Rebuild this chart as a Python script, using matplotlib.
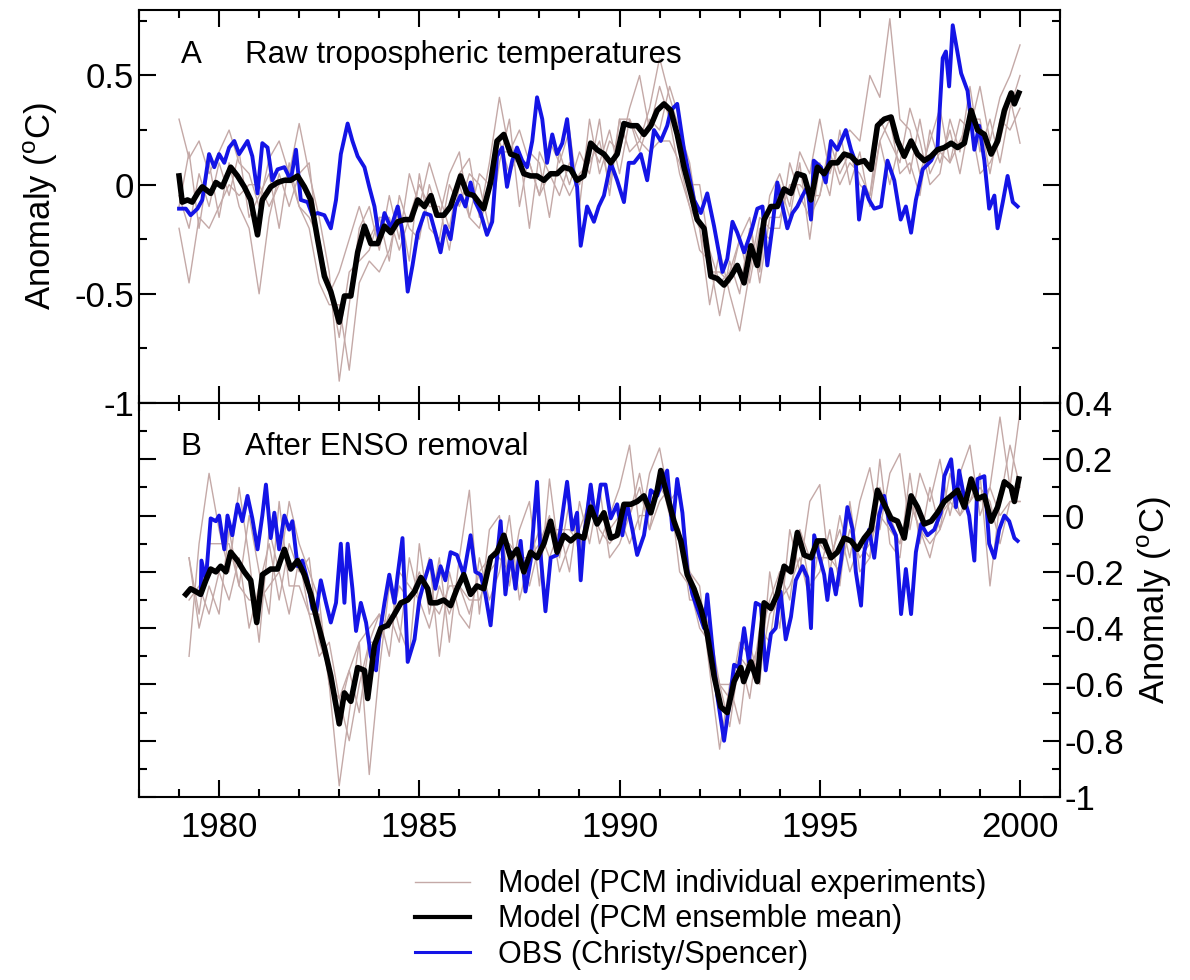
import numpy as np
import matplotlib
matplotlib.use("Agg")
import matplotlib.pyplot as plt
from matplotlib.lines import Line2D
from matplotlib.ticker import MultipleLocator

plt.rcParams['font.family'] = ['Liberation Sans', 'DejaVu Sans']
plt.rcParams['mathtext.fontset'] = 'custom'
plt.rcParams['mathtext.rm'] = 'Liberation Sans'

# ---- panel A: raw tropospheric temperatures (year, anomaly) ----
obs_a = [(1979.00,-0.11),(1979.17,-0.11),(1979.29,-0.14),(1979.46,-0.11),(1979.58,-0.07),(1979.75,0.14),
         (1979.88,0.08),(1980.00,0.14),(1980.13,0.10),(1980.25,0.17),(1980.38,0.20),(1980.50,0.14),
         (1980.71,0.20),(1980.83,0.13),(1980.96,-0.04),(1981.08,0.19),(1981.21,0.17),(1981.33,0.02),
         (1981.46,0.07),(1981.63,0.08),(1981.79,0.02),(1981.92,0.16),(1982.04,-0.07),(1982.21,-0.08),
         (1982.33,-0.14),(1982.46,-0.13),(1982.63,-0.14),(1982.79,-0.20),(1982.92,-0.07),(1983.04,0.14),
         (1983.21,0.28),(1983.33,0.20),(1983.46,0.13),(1983.63,0.08),(1983.75,-0.01),(1983.88,-0.10),
         (1984.00,-0.25),(1984.13,-0.13),(1984.29,-0.20),(1984.46,-0.10),(1984.58,-0.22),(1984.71,-0.49),
         (1984.83,-0.37),(1984.96,-0.22),(1985.13,-0.13),(1985.28,-0.14),(1985.40,-0.22),(1985.53,-0.31),
         (1985.65,-0.19),(1985.78,-0.25),(1985.90,-0.10),(1986.03,-0.05),(1986.15,-0.10),(1986.28,0.01),
         (1986.40,-0.08),(1986.53,-0.13),(1986.69,-0.23),(1986.82,-0.17),(1986.94,0.13),(1987.07,0.17),
         (1987.19,-0.01),(1987.32,0.11),(1987.44,0.17),(1987.57,0.11),(1987.69,0.08),(1987.82,0.20),
         (1987.94,0.40),(1988.07,0.30),(1988.19,0.10),(1988.32,0.23),(1988.44,0.14),(1988.57,0.19),
         (1988.69,0.30),(1988.82,0.08),(1988.94,-0.01),(1989.03,-0.28),(1989.19,-0.10),(1989.36,-0.17),
         (1989.48,-0.10),(1989.61,-0.05),(1989.78,0.10),(1989.94,0.02),(1990.11,-0.08),(1990.23,0.10),
         (1990.36,0.10),(1990.53,0.14),(1990.69,0.02),(1990.86,0.25),(1991.03,0.20),(1991.19,0.27),
         (1991.28,0.34),(1991.44,0.37),(1991.61,0.16),(1991.86,-0.07),(1992.03,-0.13),(1992.19,-0.04),
         (1992.36,-0.19),(1992.57,-0.40),(1992.69,-0.34),(1992.82,-0.17),(1992.94,-0.22),(1993.11,-0.31),
         (1993.28,-0.22),(1993.44,-0.11),(1993.57,-0.10),(1993.69,-0.37),(1993.82,-0.19),(1993.94,0.01),
         (1994.07,-0.10),(1994.19,-0.20),(1994.32,-0.13),(1994.44,-0.10),(1994.57,-0.05),(1994.69,-0.01),
         (1994.78,-0.16),(1994.85,0.11),(1995.03,0.08),(1995.15,0.01),(1995.28,0.20),(1995.44,0.16),
         (1995.65,0.25),(1995.78,0.16),(1995.90,0.10),(1995.98,-0.16),(1996.11,-0.01),(1996.23,-0.07),
         (1996.36,-0.11),(1996.53,-0.10),(1996.69,0.11),(1996.86,0.02),(1997.02,-0.16),(1997.15,-0.10),
         (1997.28,-0.22),(1997.40,-0.07),(1997.57,0.07),(1997.78,0.11),(1997.94,0.17),(1998.07,0.58),
         (1998.15,0.61),(1998.23,0.45),(1998.32,0.73),(1998.53,0.51),(1998.69,0.43),(1998.86,0.16),
         (1998.98,0.27),(1999.11,0.11),(1999.23,-0.11),(1999.36,-0.05),(1999.44,-0.20),(1999.57,-0.08),
         (1999.69,0.04),(1999.82,-0.08),(1999.94,-0.10)]

mean_a = [(1979.00,0.04),(1979.08,-0.08),(1979.21,-0.07),(1979.33,-0.08),(1979.46,-0.04),(1979.58,-0.01),
          (1979.79,-0.04),(1979.92,0.01),(1980.08,-0.01),(1980.29,0.08),(1980.46,0.04),(1980.63,-0.01),
          (1980.79,-0.07),(1980.96,-0.23),(1981.08,-0.07),(1981.29,-0.01),(1981.46,0.01),(1981.63,0.02),
          (1981.79,0.02),(1981.96,0.04),(1982.13,-0.01),(1982.29,-0.07),(1982.46,-0.25),(1982.63,-0.42),
          (1982.79,-0.49),(1983.00,-0.63),(1983.13,-0.51),(1983.29,-0.51),(1983.46,-0.31),(1983.63,-0.19),
          (1983.79,-0.27),(1983.96,-0.27),(1984.13,-0.19),(1984.29,-0.22),(1984.46,-0.17),(1984.63,-0.16),
          (1984.79,-0.16),(1984.96,-0.07),(1985.13,-0.10),(1985.29,-0.05),(1985.44,-0.14),(1985.61,-0.14),
          (1985.78,-0.10),(1986.03,0.04),(1986.19,-0.04),(1986.36,-0.05),(1986.61,-0.11),(1986.78,0.01),
          (1986.94,0.20),(1987.11,0.23),(1987.28,0.14),(1987.44,0.13),(1987.61,0.05),(1987.78,0.04),
          (1987.94,0.04),(1988.11,0.02),(1988.28,0.05),(1988.44,0.05),(1988.61,0.08),(1988.78,0.07),
          (1988.94,0.02),(1989.11,0.04),(1989.28,0.19),(1989.44,0.16),(1989.61,0.14),(1989.78,0.10),
          (1989.94,0.14),(1990.11,0.28),(1990.28,0.27),(1990.44,0.27),(1990.61,0.23),(1990.78,0.27),
          (1990.94,0.34),(1991.11,0.37),(1991.28,0.34),(1991.44,0.23),(1991.61,0.08),(1991.78,-0.04),
          (1991.94,-0.16),(1992.11,-0.20),(1992.28,-0.42),(1992.44,-0.43),(1992.61,-0.46),(1992.78,-0.42),
          (1992.94,-0.37),(1993.11,-0.45),(1993.28,-0.28),(1993.44,-0.37),(1993.61,-0.16),(1993.78,-0.10),
          (1993.94,-0.10),(1994.11,-0.02),(1994.28,-0.04),(1994.44,0.05),(1994.61,0.04),(1994.78,-0.07),
          (1994.94,0.08),(1995.11,0.05),(1995.28,0.10),(1995.44,0.10),(1995.61,0.14),(1995.78,0.13),
          (1995.94,0.10),(1996.11,0.11),(1996.28,0.07),(1996.44,0.27),(1996.61,0.30),(1996.78,0.31),
          (1996.94,0.20),(1997.11,0.13),(1997.28,0.20),(1997.44,0.14),(1997.61,0.11),(1997.78,0.13),
          (1997.94,0.16),(1998.11,0.17),(1998.28,0.19),(1998.44,0.17),(1998.61,0.19),(1998.78,0.34),
          (1998.94,0.25),(1999.11,0.23),(1999.28,0.14),(1999.44,0.20),(1999.61,0.34),(1999.78,0.42),
          (1999.86,0.37),(1999.97,0.42)]

# individual PCM runs, quarterly from 1979.0 to 2000.0
runs_a = [
    [0.30,0.12,0.20,0.05, 0.15,0.25,0.10,0.05, -0.10,0.12,0.20,0.05, 0.28,0.05,-0.15,-0.40,
     -0.90,-0.55,-0.20,-0.10, -0.30,-0.05,-0.25,0.05, -0.10,0.10,-0.05,-0.20, 0.05,0.12,-0.15,0.10,
     0.40,0.15,0.25,0.10, -0.05,0.20,0.10,0.25, -0.10,0.30,0.05,0.20, 0.15,0.35,0.50,0.25,
     0.45,0.30,0.05,-0.10, -0.30,-0.35,-0.60,-0.35, -0.50,-0.20,-0.40,-0.05, 0.05,-0.10,0.15,0.05,
     0.30,0.05,0.20,0.25, 0.20,0.50,0.40,0.76, 0.30,0.25,0.05,0.20, 0.35,0.10,0.30,0.25,
     0.45,0.20,0.40,0.50, 0.64],
    [-0.05,-0.20,0.05,-0.10, 0.10,-0.05,0.15,-0.15, -0.05,0.05,-0.20,0.10, -0.10,-0.20,-0.45,-0.55,
     -0.55,-0.85,-0.45,-0.35, -0.40,-0.30,-0.10,-0.35, 0.05,-0.20,-0.25,0.00, -0.10,0.05,0.00,-0.20,
     0.10,0.30,-0.10,0.15, 0.10,-0.15,0.15,0.00, 0.15,0.05,0.30,-0.05, 0.30,0.15,0.20,0.35,
     0.58,0.40,0.25,0.10, -0.20,-0.55,-0.30,-0.50, -0.67,-0.40,-0.15,-0.20, -0.20,0.10,-0.05,-0.15,
     -0.05,0.20,0.05,0.15, 0.00,-0.05,0.30,0.20, 0.10,0.35,0.20,0.00, 0.05,0.30,0.15,0.45,
     0.15,0.30,0.10,0.35, 0.50],
    [-0.10,0.15,-0.20,0.10, -0.15,0.10,-0.10,-0.20, -0.50,-0.15,0.05,-0.10, 0.05,0.10,-0.30,-0.45,
     -0.70,-0.40,-0.35,-0.30, -0.15,-0.35,-0.05,-0.20, -0.25,0.00,-0.15,0.05, 0.15,-0.15,0.05,0.00,
     0.20,0.05,0.15,-0.20, 0.15,0.05,-0.05,0.10, 0.00,0.20,0.10,0.25, 0.05,0.30,0.15,0.30,
     0.25,0.45,0.30,0.00, 0.00,-0.30,-0.45,-0.40, -0.25,-0.45,-0.20,-0.25, 0.00,-0.15,0.10,-0.25,
     0.10,-0.05,0.25,0.00, 0.15,-0.10,0.20,0.30, 0.05,0.10,-0.05,0.25, 0.10,0.25,0.05,0.30,
     0.30,0.05,0.30,0.25, 0.35],
    [-0.20,-0.45,-0.15,-0.20, -0.10,0.00,-0.05,0.00, 0.00,-0.10,0.00,0.05, -0.10,-0.15,-0.25,-0.50,
     -0.40,-0.25,-0.10,-0.25, -0.15,-0.15,-0.30,-0.15, 0.00,-0.10,-0.10,-0.30, 0.00,-0.15,-0.20,0.00,
     0.15,0.15,0.10,0.10, -0.05,0.05,0.05,-0.05, 0.05,0.10,0.20,0.00, 0.30,0.30,0.20,0.15,
     0.20,0.20,0.10,-0.10, -0.20,-0.40,-0.40,-0.45, -0.25,-0.15,-0.45,-0.15, -0.15,0.00,0.00,-0.05,
     -0.05,0.15,0.00,0.10, 0.05,-0.05,0.20,0.00, 0.20,0.05,0.30,0.05, 0.15,0.10,0.20,0.30,
     0.05,0.10,0.20,0.40, 0.19],
]

# ---- panel B: after ENSO removal ----
obs_b = [(1979.54,-0.28),(1979.56,-0.16),(1979.67,-0.23),(1979.79,-0.01),(1979.92,-0.02),(1980.00,0.00),
         (1980.13,-0.12),(1980.21,0.00),(1980.33,-0.07),(1980.46,0.04),(1980.58,-0.02),(1980.71,0.07),
         (1980.83,-0.01),(1980.96,-0.12),(1981.08,0.00),(1981.17,0.11),(1981.29,-0.08),(1981.38,0.01),
         (1981.50,-0.12),(1981.63,0.00),(1981.75,-0.05),(1981.83,-0.02),(1981.96,-0.18),(1982.08,-0.16),
         (1982.21,-0.23),(1982.33,-0.33),(1982.42,-0.35),(1982.54,-0.23),(1982.67,-0.31),(1982.79,-0.38),
         (1982.92,-0.31),(1983.04,-0.10),(1983.13,-0.31),(1983.21,-0.10),(1983.33,-0.26),(1983.42,-0.41),
         (1983.54,-0.31),(1983.67,-0.38),(1983.79,-0.50),(1983.92,-0.55),(1984.00,-0.43),(1984.13,-0.31),
         (1984.25,-0.21),(1984.38,-0.31),(1984.46,-0.21),(1984.58,-0.08),(1984.71,-0.52),(1984.88,-0.44),
         (1985.00,-0.30),(1985.13,-0.23),(1985.28,-0.16),(1985.40,-0.26),(1985.53,-0.18),(1985.65,-0.23),
         (1985.78,-0.13),(1985.94,-0.14),(1986.11,-0.21),(1986.28,-0.07),(1986.40,-0.20),(1986.53,-0.21),
         (1986.65,-0.28),(1986.78,-0.39),(1986.90,-0.21),(1987.03,-0.02),(1987.15,-0.28),(1987.28,-0.13),
         (1987.40,-0.26),(1987.53,-0.09),(1987.65,-0.27),(1987.78,-0.16),(1987.94,0.12),(1988.03,-0.14),
         (1988.15,-0.34),(1988.28,-0.15),(1988.44,-0.14),(1988.61,0.04),(1988.69,0.12),(1988.82,-0.05),
         (1988.94,0.01),(1989.03,-0.23),(1989.11,-0.08),(1989.28,0.11),(1989.40,-0.02),(1989.53,0.11),
         (1989.65,0.11),(1989.78,-0.01),(1989.94,0.04),(1990.07,-0.07),(1990.19,0.04),(1990.32,-0.05),
         (1990.44,-0.14),(1990.61,-0.07),(1990.78,0.09),(1990.94,0.07),(1991.07,0.12),(1991.19,0.16),
         (1991.32,-0.05),(1991.44,0.13),(1991.57,0.01),(1991.69,-0.19),(1991.82,-0.28),(1991.94,-0.33),
         (1992.11,-0.40),(1992.19,-0.28),(1992.32,-0.47),(1992.44,-0.64),(1992.61,-0.80),(1992.73,-0.68),
         (1992.86,-0.53),(1992.98,-0.54),(1993.11,-0.40),(1993.23,-0.52),(1993.40,-0.31),(1993.53,-0.32),
         (1993.65,-0.55),(1993.78,-0.42),(1993.90,-0.40),(1994.02,-0.27),(1994.15,-0.44),(1994.28,-0.36),
         (1994.40,-0.23),(1994.57,-0.18),(1994.69,-0.22),(1994.78,-0.40),(1994.86,-0.07),(1994.98,-0.14),
         (1995.11,-0.21),(1995.19,-0.30),(1995.28,-0.19),(1995.40,-0.28),(1995.53,-0.16),(1995.69,0.03),
         (1995.82,-0.05),(1995.90,-0.20),(1996.03,-0.32),(1996.11,-0.13),(1996.23,-0.05),(1996.36,-0.15),
         (1996.48,0.00),(1996.61,0.07),(1996.73,-0.02),(1996.90,-0.07),(1997.03,-0.35),(1997.15,-0.19),
         (1997.28,-0.35),(1997.40,-0.13),(1997.53,-0.03),(1997.69,-0.07),(1997.86,-0.05),(1998.02,0.01),
         (1998.11,0.14),(1998.28,0.20),(1998.40,0.03),(1998.48,0.16),(1998.61,0.06),(1998.73,0.00),
         (1998.86,-0.16),(1998.94,0.13),(1999.11,0.14),(1999.23,-0.10),(1999.36,-0.15),(1999.48,-0.05),
         (1999.61,0.00),(1999.73,-0.02),(1999.86,-0.08),(1999.94,-0.09)]

mean_b = [(1979.17,-0.28),(1979.29,-0.26),(1979.42,-0.27),(1979.54,-0.28),(1979.67,-0.23),(1979.79,-0.19),
          (1979.92,-0.20),(1980.04,-0.18),(1980.17,-0.20),(1980.29,-0.13),(1980.46,-0.16),(1980.63,-0.20),
          (1980.79,-0.23),(1980.94,-0.38),(1981.08,-0.21),(1981.29,-0.19),(1981.46,-0.19),(1981.63,-0.12),
          (1981.79,-0.19),(1981.96,-0.16),(1982.13,-0.21),(1982.29,-0.28),(1982.46,-0.38),(1982.63,-0.47),
          (1982.79,-0.57),(1983.00,-0.74),(1983.13,-0.63),(1983.29,-0.66),(1983.46,-0.54),(1983.63,-0.55),
          (1983.71,-0.65),(1983.88,-0.46),(1984.04,-0.40),(1984.21,-0.39),(1984.38,-0.35),(1984.54,-0.31),
          (1984.71,-0.30),(1984.88,-0.27),(1985.04,-0.22),(1985.21,-0.26),(1985.28,-0.31),(1985.44,-0.31),
          (1985.61,-0.30),(1985.78,-0.32),(1985.94,-0.26),(1986.11,-0.21),(1986.28,-0.28),(1986.44,-0.25),
          (1986.61,-0.26),(1986.78,-0.15),(1986.94,-0.13),(1987.11,-0.07),(1987.28,-0.15),(1987.44,-0.12),
          (1987.61,-0.20),(1987.78,-0.13),(1987.94,-0.15),(1988.11,-0.10),(1988.28,-0.02),(1988.44,-0.13),
          (1988.61,-0.07),(1988.78,-0.09),(1988.94,-0.07),(1989.11,-0.08),(1989.28,0.03),(1989.44,-0.03),
          (1989.61,0.01),(1989.78,-0.08),(1989.94,-0.07),(1990.11,0.04),(1990.28,0.04),(1990.44,0.05),
          (1990.61,0.07),(1990.78,0.01),(1990.94,0.09),(1991.03,0.16),(1991.19,0.07),(1991.36,-0.02),
          (1991.53,-0.09),(1991.69,-0.21),(1991.86,-0.26),(1992.03,-0.33),(1992.19,-0.42),(1992.36,-0.57),
          (1992.53,-0.68),(1992.69,-0.70),(1992.86,-0.59),(1993.03,-0.54),(1993.10,-0.59),(1993.28,-0.52),
          (1993.44,-0.59),(1993.61,-0.31),(1993.78,-0.33),(1993.94,-0.28),(1994.11,-0.18),(1994.28,-0.20),
          (1994.44,-0.06),(1994.61,-0.14),(1994.78,-0.15),(1994.94,-0.09),(1995.11,-0.09),(1995.28,-0.15),
          (1995.44,-0.13),(1995.61,-0.08),(1995.78,-0.09),(1995.94,-0.12),(1996.11,-0.08),(1996.28,-0.05),
          (1996.44,0.09),(1996.61,0.04),(1996.78,-0.01),(1996.94,-0.02),(1997.11,-0.08),(1997.28,0.07),
          (1997.44,0.03),(1997.61,-0.03),(1997.78,-0.02),(1997.94,0.01),(1998.11,0.05),(1998.28,0.07),
          (1998.44,0.09),(1998.61,0.03),(1998.78,0.13),(1998.94,0.06),(1999.11,0.07),(1999.28,-0.02),
          (1999.44,0.03),(1999.61,0.12),(1999.78,0.10),(1999.86,0.05),(1999.97,0.13)]

# quarterly from 1979.25 to 2000.0
runs_b = [
    [-0.50,-0.10,0.15, -0.05,-0.20,0.10,-0.15, -0.45,-0.05,-0.20,0.05, -0.10,-0.20,-0.30,-0.60,
     -0.96,-0.70,-0.45,-0.92, -0.55,-0.25,-0.40,-0.50, -0.10,-0.35,-0.15,-0.45, -0.15,0.09,-0.35,-0.05,
     0.00,-0.25,-0.05,0.05, -0.25,0.13,-0.15,0.05, -0.15,0.10,-0.10,0.00, 0.10,0.25,-0.05,0.15,
     0.24,0.05,0.10,-0.20, -0.25,-0.55,-0.83,-0.60, -0.74,-0.45,-0.60,-0.20, -0.40,-0.05,-0.20,0.05,
     0.11,-0.20,0.00,-0.15, 0.05,0.17,-0.05,0.15, 0.22,-0.05,0.15,0.05, 0.20,0.00,0.15,0.25,
     0.00,0.10,0.35,0.10, 0.37],
    [-0.15,-0.40,-0.25, -0.35,-0.05,-0.25,0.00, -0.20,-0.35,0.05,-0.25, -0.25,-0.35,-0.50,-0.45,
     -0.65,-0.80,-0.60,-0.45, -0.35,-0.50,-0.20,-0.25, -0.30,-0.15,-0.50,-0.20, -0.35,-0.40,-0.15,-0.30,
     -0.20,0.00,-0.30,-0.15, -0.05,-0.15,-0.05,-0.20, 0.05,-0.10,0.10,-0.15, -0.10,0.00,0.15,-0.05,
     0.05,0.10,-0.20,-0.25, -0.40,-0.45,-0.60,-0.75, -0.50,-0.65,-0.40,-0.45, -0.20,-0.30,-0.05,-0.25,
     -0.20,-0.05,-0.25,0.05, -0.20,-0.15,0.20,-0.10, -0.15,0.15,-0.10,0.10, -0.05,0.15,0.00,0.05,
     0.15,-0.25,0.05,0.25, 0.10],
    [-0.30,-0.25,-0.35, -0.20,-0.30,-0.15,-0.40, -0.25,-0.10,-0.30,-0.10, -0.20,-0.15,-0.45,-0.55,
     -0.70,-0.55,-0.70,-0.45, -0.45,-0.35,-0.45,-0.15, -0.30,-0.40,-0.25,-0.35, -0.25,-0.30,-0.30,-0.20,
     -0.15,-0.20,-0.10,-0.25, -0.10,0.00,-0.20,-0.10, -0.05,0.05,-0.05,-0.10, -0.05,0.00,0.10,-0.05,
     0.15,0.00,-0.05,-0.30, -0.30,-0.50,-0.60,-0.65, -0.45,-0.50,-0.55,-0.35, -0.30,-0.25,-0.15,-0.30,
     -0.10,-0.15,-0.20,-0.05, -0.15,-0.10,0.00,-0.05, -0.10,0.05,-0.05,-0.15, 0.00,0.05,0.10,0.05,
     0.10,0.05,-0.10,0.05, 0.05],
    [-0.15,-0.35,-0.10, -0.10,-0.10,-0.25,-0.30, -0.30,-0.25,-0.20,-0.35, -0.15,-0.35,-0.35,-0.60,
     -0.65,-0.55,-0.45,-0.40, -0.35,-0.40,-0.25,-0.30, -0.20,-0.30,-0.35,-0.25, -0.25,-0.35,-0.20,-0.15,
     -0.10,-0.10,-0.15,-0.15, -0.10,-0.05,-0.05,-0.05, -0.10,0.00,0.00,-0.05, 0.00,-0.10,0.00,0.00,
     0.10,0.05,-0.10,-0.20, -0.30,-0.40,-0.60,-0.60, -0.50,-0.55,-0.45,-0.30, -0.20,-0.20,-0.05,-0.15,
     -0.15,-0.15,-0.05,-0.20, -0.10,-0.15,0.10,0.00, -0.10,0.05,-0.05,-0.10, -0.05,0.05,0.00,0.10,
     0.05,0.10,0.00,0.05, 0.05],
]

quarters_a = np.arange(1979.0, 2000.01, 0.25)
quarters_b = np.arange(1979.25, 2000.01, 0.25)

run_color = '#c4a9a7'
obs_color = '#1414e6'

fig = plt.figure(figsize=(11.9, 9.8), dpi=100)
ax1 = fig.add_axes([0.1168, 0.5888, 0.7740, 0.4010])
ax2 = fig.add_axes([0.1168, 0.1867, 0.7740, 0.4021])


def draw(ax, qx, runs, mean, obs):
    for r in runs:
        ax.plot(qx, r, color=run_color, lw=1.0, zorder=1)
    m = np.array(mean)
    ax.plot(m[:, 0], m[:, 1], color='black', lw=4.0, zorder=3)
    o = np.array(obs)
    ax.plot(o[:, 0], o[:, 1], color=obs_color, lw=2.8, zorder=2)


draw(ax1, quarters_a, runs_a, mean_a, obs_a)
draw(ax2, quarters_b, runs_b, mean_b, obs_b)

for ax in (ax1, ax2):
    ax.set_xlim(1978, 2001)
    ax.xaxis.set_major_locator(MultipleLocator(5))
    ax.xaxis.set_minor_locator(MultipleLocator(1))
    ax.tick_params(which='both', direction='in', top=True, right=True, width=1.5,
                   labelsize=25)
    ax.tick_params(which='major', length=12)
    ax.tick_params(which='minor', length=6)
    for s in ax.spines.values():
        s.set_linewidth(1.5)

ax1.set_ylim(-1, 0.8)
ax1.yaxis.set_major_locator(MultipleLocator(0.5))
ax1.yaxis.set_minor_locator(MultipleLocator(0.25))
ax1.set_yticks([-1, -0.5, 0, 0.5])
ax1.set_yticklabels(['-1', '-0.5', '0', '0.5'])
ax1.tick_params(labelbottom=False)
ax1.set_ylabel('Anomaly ($^{\\rm o}$C)', fontsize=25, labelpad=10)

ax2.set_ylim(-1, 0.4)
ax2.yaxis.set_major_locator(MultipleLocator(0.2))
ax2.yaxis.set_minor_locator(MultipleLocator(0.1))
ax2.set_yticks([-1, -0.8, -0.6, -0.4, -0.2, 0, 0.2, 0.4])
ax2.set_yticklabels(['-1', '-0.8', '-0.6', '-0.4', '-0.2', '0', '0.2', '0.4'])
ax2.tick_params(axis='y', labelleft=False, labelright=True)
ax2.tick_params(axis='x', pad=10)
ax2.yaxis.set_label_position('right')
ax2.set_ylabel('Anomaly ($^{\\rm o}$C)', fontsize=25, labelpad=8)
ax2.set_xticks([1980, 1985, 1990, 1995, 2000])
ax2.set_xticklabels(['1980', '1985', '1990', '1995', '2000'])

ax1.text(0.045, 0.885, 'A', transform=ax1.transAxes, fontsize=22.5, va='center')
ax1.text(0.115, 0.885, 'Raw tropospheric temperatures', transform=ax1.transAxes,
         fontsize=22.5, va='center')
ax2.text(0.045, 0.888, 'B', transform=ax2.transAxes, fontsize=22.5, va='center')
ax2.text(0.115, 0.888, 'After ENSO removal', transform=ax2.transAxes,
         fontsize=22.5, va='center')

handles = [Line2D([], [], color=run_color, lw=1.0),
           Line2D([], [], color='black', lw=3.0),
           Line2D([], [], color=obs_color, lw=2.2)]
labels = ['Model (PCM individual experiments)', 'Model (PCM ensemble mean)',
          'OBS (Christy/Spencer)']
fig.legend(handles, labels, loc='upper left', bbox_to_anchor=(0.349, 0.113),
           frameon=False, fontsize=22, handlelength=1.8, handletextpad=0.9,
           labelspacing=0.17, borderaxespad=0, borderpad=0)

fig.savefig('out.png', dpi=100)
